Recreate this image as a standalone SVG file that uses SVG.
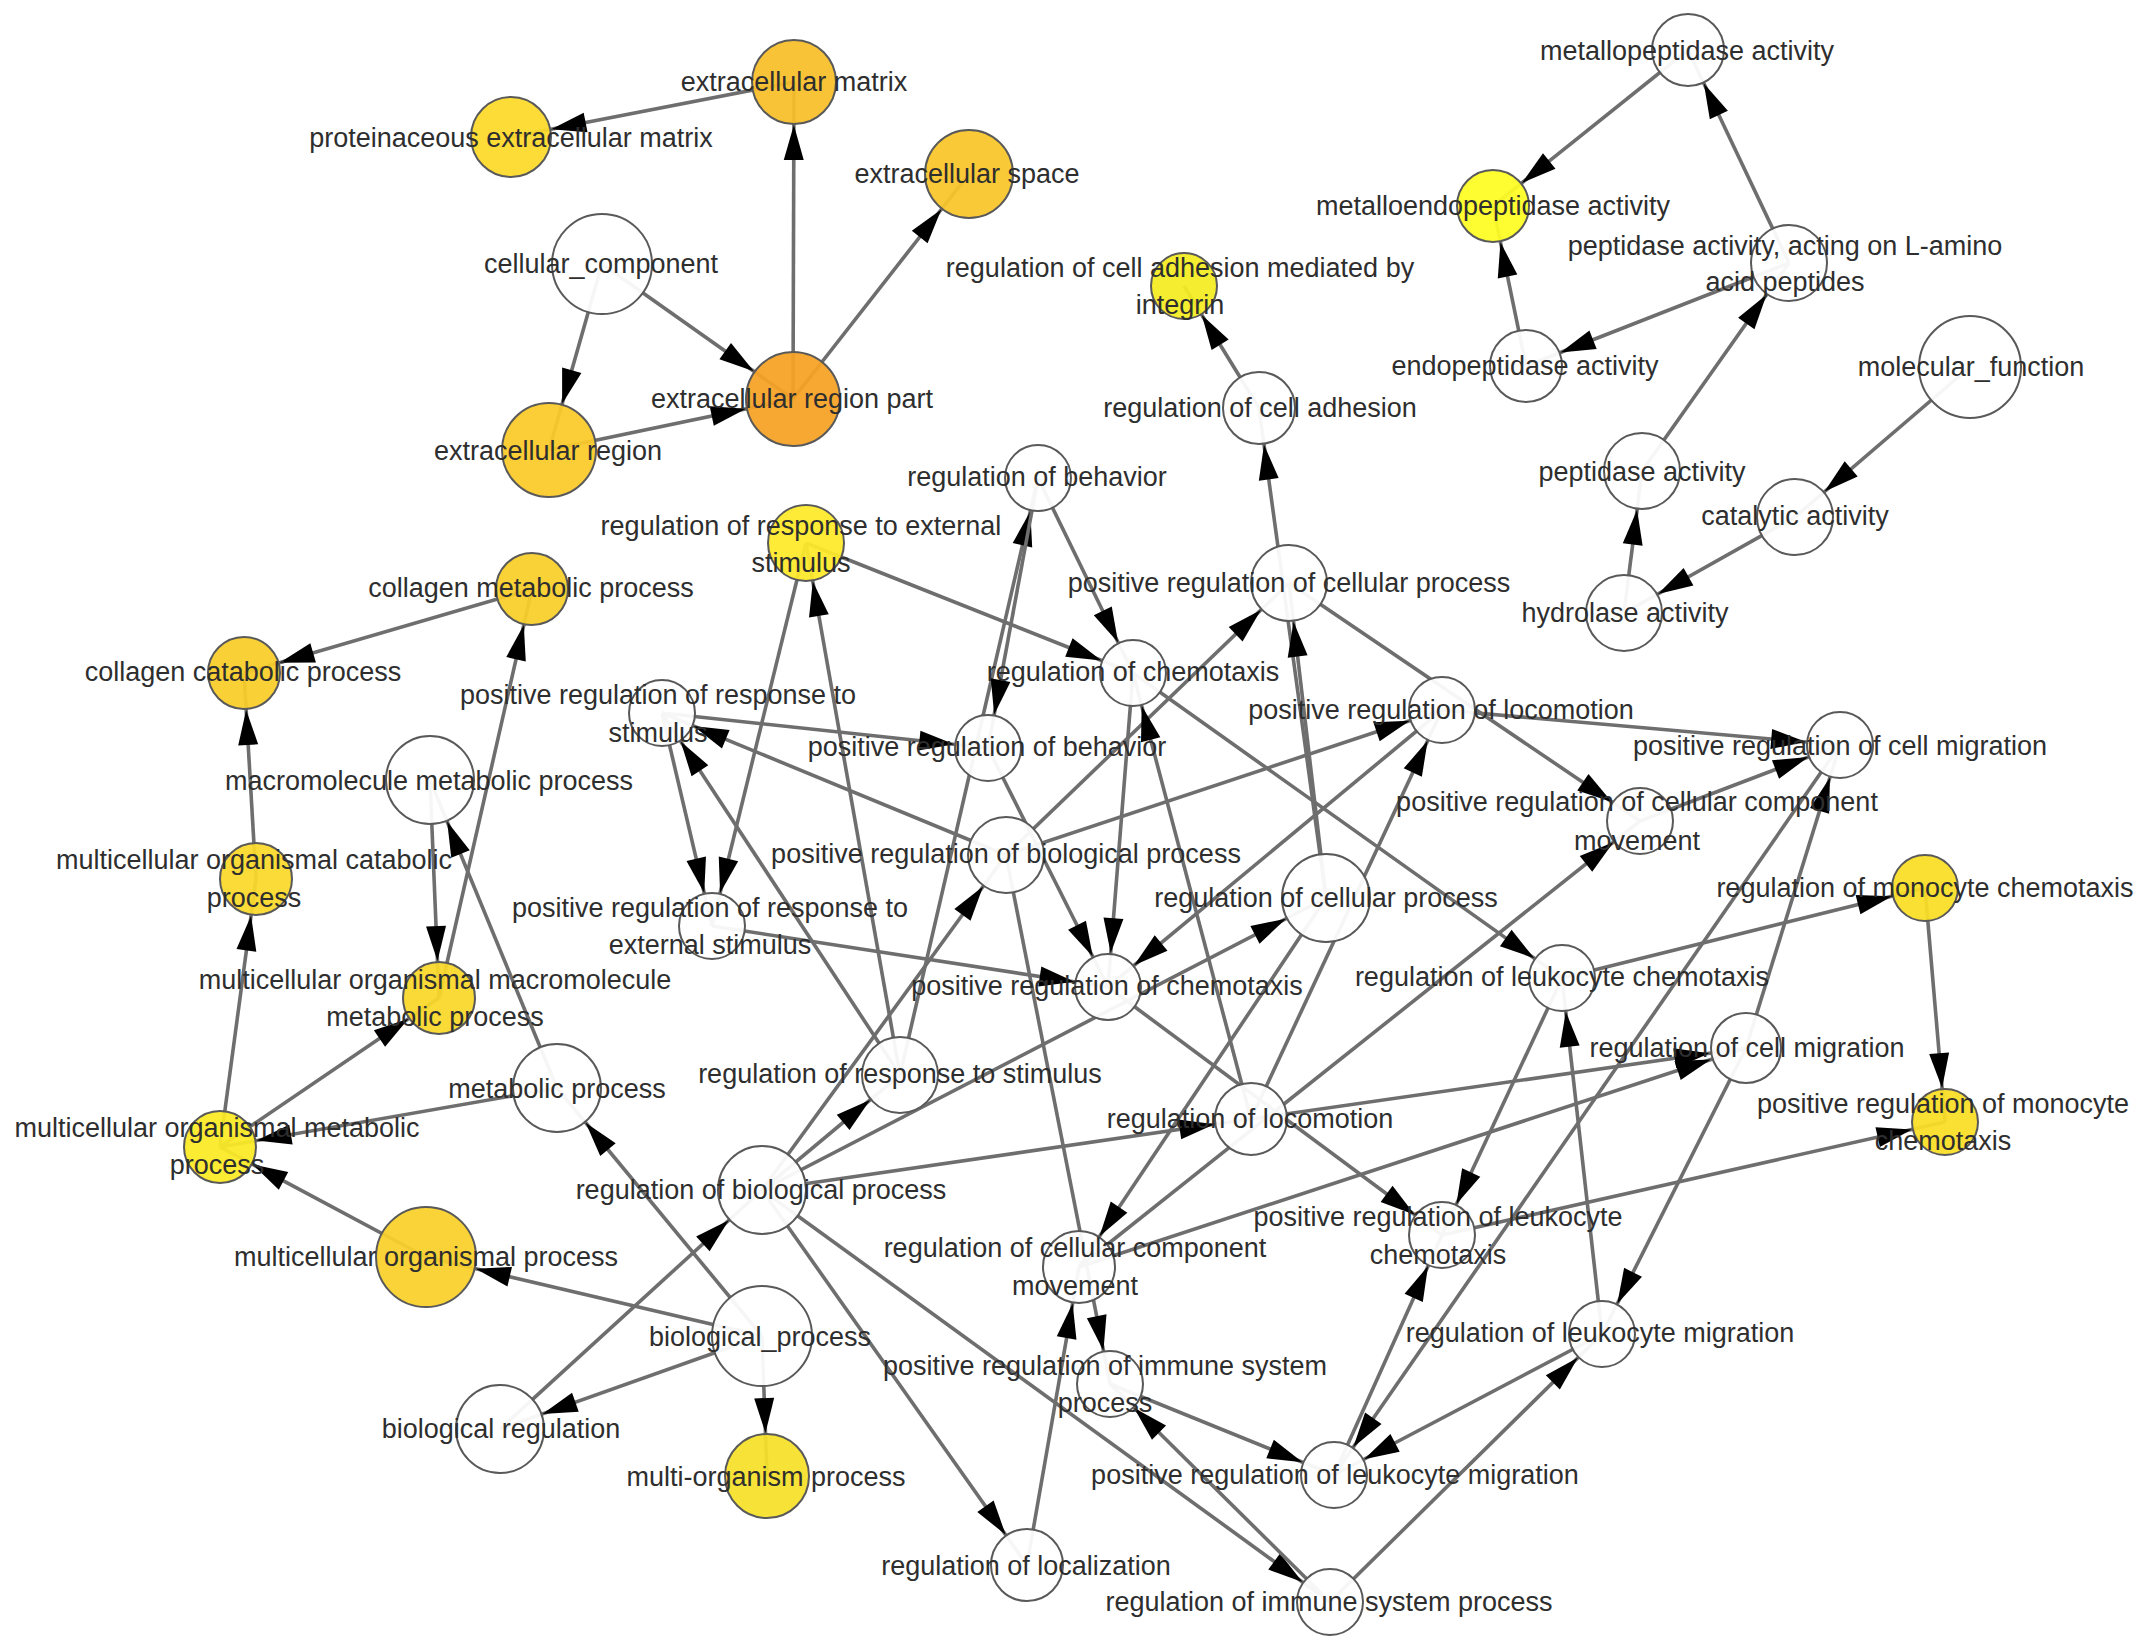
<svg xmlns="http://www.w3.org/2000/svg" width="2150" height="1650" viewBox="0 0 2150 1650">
<style>
.bg{fill:#ffffff}
.n circle{stroke:#595959;stroke-width:2;fill-opacity:0.94}
.w{fill:#ffffff}
text{font-family:"Liberation Sans",Arial,sans-serif;font-size:27px;fill:#2e2e2e;text-anchor:middle;dominant-baseline:central}
#edges line{stroke:#6e6e6e;stroke-width:3.6;fill:none}
.ah{fill:#000000}
</style>
<defs>
<marker id="m33" markerUnits="userSpaceOnUse" markerWidth="36" markerHeight="20" refX="69" refY="10" orient="auto" overflow="visible"><path class="ah" d="M0,0 L35,10 L0,20 z"/></marker>
<marker id="m36" markerUnits="userSpaceOnUse" markerWidth="36" markerHeight="20" refX="72" refY="10" orient="auto" overflow="visible"><path class="ah" d="M0,0 L35,10 L0,20 z"/></marker>
<marker id="m38" markerUnits="userSpaceOnUse" markerWidth="36" markerHeight="20" refX="74" refY="10" orient="auto" overflow="visible"><path class="ah" d="M0,0 L35,10 L0,20 z"/></marker>
<marker id="m40" markerUnits="userSpaceOnUse" markerWidth="36" markerHeight="20" refX="76" refY="10" orient="auto" overflow="visible"><path class="ah" d="M0,0 L35,10 L0,20 z"/></marker>
<marker id="m42" markerUnits="userSpaceOnUse" markerWidth="36" markerHeight="20" refX="78" refY="10" orient="auto" overflow="visible"><path class="ah" d="M0,0 L35,10 L0,20 z"/></marker>
<marker id="m44" markerUnits="userSpaceOnUse" markerWidth="36" markerHeight="20" refX="80" refY="10" orient="auto" overflow="visible"><path class="ah" d="M0,0 L35,10 L0,20 z"/></marker>
<marker id="m47" markerUnits="userSpaceOnUse" markerWidth="36" markerHeight="20" refX="83" refY="10" orient="auto" overflow="visible"><path class="ah" d="M0,0 L35,10 L0,20 z"/></marker>
<marker id="m50" markerUnits="userSpaceOnUse" markerWidth="36" markerHeight="20" refX="86" refY="10" orient="auto" overflow="visible"><path class="ah" d="M0,0 L35,10 L0,20 z"/></marker>
</defs>
<rect class="bg" x="0" y="0" width="2150" height="1650"/>
<g id="edges">
<line x1="794" y1="82" x2="511" y2="137" marker-end="url(#m40)"/>
<line x1="793" y1="399" x2="794" y2="82" marker-end="url(#m42)"/>
<line x1="793" y1="399" x2="969" y2="174" marker-end="url(#m44)"/>
<line x1="602" y1="264" x2="793" y2="399" marker-end="url(#m47)"/>
<line x1="602" y1="264" x2="549" y2="450" marker-end="url(#m47)"/>
<line x1="549" y1="450" x2="793" y2="399" marker-end="url(#m47)"/>
<line x1="1688" y1="50" x2="1493" y2="206" marker-end="url(#m36)"/>
<line x1="1789" y1="263" x2="1688" y2="50" marker-end="url(#m36)"/>
<line x1="1789" y1="263" x2="1526" y2="366" marker-end="url(#m36)"/>
<line x1="1526" y1="366" x2="1493" y2="206" marker-end="url(#m36)"/>
<line x1="1642" y1="471" x2="1789" y2="263" marker-end="url(#m38)"/>
<line x1="1970" y1="367" x2="1795" y2="517" marker-end="url(#m38)"/>
<line x1="1795" y1="517" x2="1624" y2="613" marker-end="url(#m38)"/>
<line x1="1624" y1="613" x2="1642" y2="471" marker-end="url(#m38)"/>
<line x1="1259" y1="408" x2="1184" y2="286" marker-end="url(#m33)"/>
<line x1="1326" y1="898" x2="1259" y2="408" marker-end="url(#m36)"/>
<line x1="1326" y1="898" x2="1289" y2="583" marker-end="url(#m38)"/>
<line x1="532" y1="589" x2="244" y2="673" marker-end="url(#m36)"/>
<line x1="256" y1="879" x2="244" y2="673" marker-end="url(#m36)"/>
<line x1="439" y1="998" x2="532" y2="589" marker-end="url(#m36)"/>
<line x1="430" y1="780" x2="439" y2="998" marker-end="url(#m36)"/>
<line x1="557" y1="1088" x2="430" y2="780" marker-end="url(#m44)"/>
<line x1="220" y1="1147" x2="256" y2="879" marker-end="url(#m36)"/>
<line x1="220" y1="1147" x2="439" y2="998" marker-end="url(#m36)"/>
<line x1="557" y1="1088" x2="220" y2="1147" marker-end="url(#m36)"/>
<line x1="426" y1="1257" x2="220" y2="1147" marker-end="url(#m36)"/>
<line x1="762" y1="1336" x2="426" y2="1257" marker-end="url(#m50)"/>
<line x1="762" y1="1336" x2="557" y2="1088" marker-end="url(#m44)"/>
<line x1="762" y1="1336" x2="500" y2="1429" marker-end="url(#m44)"/>
<line x1="762" y1="1336" x2="767" y2="1476" marker-end="url(#m42)"/>
<line x1="500" y1="1429" x2="762" y2="1190" marker-end="url(#m44)"/>
<line x1="762" y1="1190" x2="900" y2="1075" marker-end="url(#m38)"/>
<line x1="762" y1="1190" x2="1006" y2="855" marker-end="url(#m38)"/>
<line x1="762" y1="1190" x2="1326" y2="898" marker-end="url(#m44)"/>
<line x1="762" y1="1190" x2="1251" y2="1119" marker-end="url(#m36)"/>
<line x1="762" y1="1190" x2="1027" y2="1565" marker-end="url(#m36)"/>
<line x1="762" y1="1190" x2="1330" y2="1602" marker-end="url(#m33)"/>
<line x1="900" y1="1075" x2="806" y2="543" marker-end="url(#m38)"/>
<line x1="900" y1="1075" x2="1038" y2="478" marker-end="url(#m33)"/>
<line x1="900" y1="1075" x2="662" y2="713" marker-end="url(#m33)"/>
<line x1="806" y1="543" x2="1133" y2="673" marker-end="url(#m33)"/>
<line x1="806" y1="543" x2="712" y2="926" marker-end="url(#m33)"/>
<line x1="662" y1="713" x2="712" y2="926" marker-end="url(#m33)"/>
<line x1="662" y1="713" x2="988" y2="748" marker-end="url(#m33)"/>
<line x1="1006" y1="855" x2="662" y2="713" marker-end="url(#m33)"/>
<line x1="1038" y1="478" x2="988" y2="748" marker-end="url(#m33)"/>
<line x1="1038" y1="478" x2="1133" y2="673" marker-end="url(#m33)"/>
<line x1="988" y1="748" x2="1108" y2="987" marker-end="url(#m33)"/>
<line x1="712" y1="926" x2="1108" y2="987" marker-end="url(#m33)"/>
<line x1="1133" y1="673" x2="1108" y2="987" marker-end="url(#m33)"/>
<line x1="1133" y1="673" x2="1562" y2="978" marker-end="url(#m33)"/>
<line x1="1006" y1="855" x2="1289" y2="583" marker-end="url(#m38)"/>
<line x1="1006" y1="855" x2="1442" y2="710" marker-end="url(#m33)"/>
<line x1="1006" y1="855" x2="1110" y2="1384" marker-end="url(#m33)"/>
<line x1="1251" y1="1119" x2="1133" y2="673" marker-end="url(#m33)"/>
<line x1="1251" y1="1119" x2="1442" y2="710" marker-end="url(#m33)"/>
<line x1="1442" y1="710" x2="1108" y2="987" marker-end="url(#m33)"/>
<line x1="1442" y1="710" x2="1840" y2="745" marker-end="url(#m33)"/>
<line x1="1289" y1="583" x2="1640" y2="821" marker-end="url(#m33)"/>
<line x1="1326" y1="898" x2="1079" y2="1267" marker-end="url(#m36)"/>
<line x1="1079" y1="1267" x2="1640" y2="821" marker-end="url(#m33)"/>
<line x1="1079" y1="1267" x2="1746" y2="1048" marker-end="url(#m36)"/>
<line x1="1251" y1="1119" x2="1746" y2="1048" marker-end="url(#m36)"/>
<line x1="1640" y1="821" x2="1840" y2="745" marker-end="url(#m33)"/>
<line x1="1746" y1="1048" x2="1840" y2="745" marker-end="url(#m33)"/>
<line x1="1746" y1="1048" x2="1602" y2="1334" marker-end="url(#m33)"/>
<line x1="1840" y1="745" x2="1334" y2="1475" marker-end="url(#m33)"/>
<line x1="1562" y1="978" x2="1925" y2="888" marker-end="url(#m33)"/>
<line x1="1562" y1="978" x2="1442" y2="1235" marker-end="url(#m33)"/>
<line x1="1925" y1="888" x2="1945" y2="1122" marker-end="url(#m33)"/>
<line x1="1442" y1="1235" x2="1945" y2="1122" marker-end="url(#m33)"/>
<line x1="1108" y1="987" x2="1442" y2="1235" marker-end="url(#m33)"/>
<line x1="1602" y1="1334" x2="1562" y2="978" marker-end="url(#m33)"/>
<line x1="1602" y1="1334" x2="1334" y2="1475" marker-end="url(#m33)"/>
<line x1="1334" y1="1475" x2="1442" y2="1235" marker-end="url(#m33)"/>
<line x1="1110" y1="1384" x2="1334" y2="1475" marker-end="url(#m33)"/>
<line x1="1330" y1="1602" x2="1110" y2="1384" marker-end="url(#m33)"/>
<line x1="1330" y1="1602" x2="1602" y2="1334" marker-end="url(#m33)"/>
<line x1="1027" y1="1565" x2="1079" y2="1267" marker-end="url(#m36)"/>
</g>
<g id="nodes">
<g id="n_ecm" class="n"><circle cx="794" cy="82" r="42" fill="#F9BF2B"/><text x="794" y="82">extracellular matrix</text></g>
<g id="n_pecm" class="n"><circle cx="511" cy="137" r="40" fill="#FDDA2C"/><text x="511" y="138">proteinaceous extracellular matrix</text></g>
<g id="n_ecs" class="n"><circle cx="969" cy="174" r="44" fill="#FAC62B"/><text x="967" y="174">extracellular space</text></g>
<g id="n_cc" class="n"><circle class="w" cx="602" cy="264" r="50"/><text x="601" y="264">cellular_component</text></g>
<g id="n_erp" class="n"><circle cx="793" cy="399" r="47" fill="#F6A326"/><text x="792" y="399">extracellular region part</text></g>
<g id="n_er" class="n"><circle cx="549" cy="450" r="47" fill="#FBCA2B"/><text x="548" y="451">extracellular region</text></g>
<g id="n_integ" class="n"><circle cx="1184" cy="286" r="33" fill="#F4EC22"/><text x="1180" y="268">regulation of cell adhesion mediated by</text><text x="1180" y="305">integrin</text></g>
<g id="n_mpep" class="n"><circle class="w" cx="1688" cy="50" r="36"/><text x="1687" y="51">metallopeptidase activity</text></g>
<g id="n_mendo" class="n"><circle cx="1493" cy="206" r="36" fill="#FEFD25"/><text x="1493" y="206">metalloendopeptidase activity</text></g>
<g id="n_pepact" class="n"><circle class="w" cx="1789" cy="263" r="38"/><text x="1785" y="246">peptidase activity, acting on L-amino</text><text x="1785" y="282">acid peptides</text></g>
<g id="n_endo" class="n"><circle class="w" cx="1526" cy="366" r="36"/><text x="1525" y="366">endopeptidase activity</text></g>
<g id="n_molf" class="n"><circle class="w" cx="1970" cy="367" r="51"/><text x="1971" y="367">molecular_function</text></g>
<g id="n_rcadh" class="n"><circle class="w" cx="1259" cy="408" r="36"/><text x="1260" y="408">regulation of cell adhesion</text></g>
<g id="n_pep" class="n"><circle class="w" cx="1642" cy="471" r="38"/><text x="1642" y="472">peptidase activity</text></g>
<g id="n_cat" class="n"><circle class="w" cx="1795" cy="517" r="38"/><text x="1795" y="516">catalytic activity</text></g>
<g id="n_hyd" class="n"><circle class="w" cx="1624" cy="613" r="38"/><text x="1625" y="613">hydrolase activity</text></g>
<g id="n_rbeh" class="n"><circle class="w" cx="1038" cy="478" r="33"/><text x="1037" y="477">regulation of behavior</text></g>
<g id="n_rrext" class="n"><circle cx="806" cy="543" r="38" fill="#FDEA2A"/><text x="801" y="526">regulation of response to external</text><text x="801" y="563">stimulus</text></g>
<g id="n_colmet" class="n"><circle cx="532" cy="589" r="36" fill="#F9CF2A"/><text x="531" y="588">collagen metabolic process</text></g>
<g id="n_prcp" class="n"><circle class="w" cx="1289" cy="583" r="38"/><text x="1289" y="583">positive regulation of cellular process</text></g>
<g id="n_colcat" class="n"><circle cx="244" cy="673" r="36" fill="#F9CE2A"/><text x="243" y="672">collagen catabolic process</text></g>
<g id="n_rchem" class="n"><circle class="w" cx="1133" cy="673" r="33"/><text x="1133" y="672">regulation of chemotaxis</text></g>
<g id="n_prrs" class="n"><circle class="w" cx="662" cy="713" r="33"/><text x="658" y="695">positive regulation of response to</text><text x="658" y="733">stimulus</text></g>
<g id="n_prloc" class="n"><circle class="w" cx="1442" cy="710" r="33"/><text x="1441" y="710">positive regulation of locomotion</text></g>
<g id="n_prbeh" class="n"><circle class="w" cx="988" cy="748" r="33"/><text x="987" y="747">positive regulation of behavior</text></g>
<g id="n_prcm" class="n"><circle class="w" cx="1840" cy="745" r="33"/><text x="1840" y="746">positive regulation of cell migration</text></g>
<g id="n_macro" class="n"><circle class="w" cx="430" cy="780" r="44"/><text x="429" y="781">macromolecule metabolic process</text></g>
<g id="n_prccm" class="n"><circle class="w" cx="1640" cy="821" r="33"/><text x="1637" y="802">positive regulation of cellular component</text><text x="1637" y="841">movement</text></g>
<g id="n_mocat" class="n"><circle cx="256" cy="879" r="36" fill="#FBD92B"/><text x="254" y="860">multicellular organismal catabolic</text><text x="254" y="898">process</text></g>
<g id="n_prbp" class="n"><circle class="w" cx="1006" cy="855" r="38"/><text x="1006" y="854">positive regulation of biological process</text></g>
<g id="n_rcp" class="n"><circle class="w" cx="1326" cy="898" r="44"/><text x="1326" y="898">regulation of cellular process</text></g>
<g id="n_rmono" class="n"><circle cx="1925" cy="888" r="33" fill="#F9DE26"/><text x="1925" y="888">regulation of monocyte chemotaxis</text></g>
<g id="n_prrext" class="n"><circle class="w" cx="712" cy="926" r="33"/><text x="710" y="908">positive regulation of response to</text><text x="710" y="945">external stimulus</text></g>
<g id="n_momac" class="n"><circle cx="439" cy="998" r="36" fill="#F9D82A"/><text x="435" y="980">multicellular organismal macromolecule</text><text x="435" y="1017">metabolic process</text></g>
<g id="n_prchem" class="n"><circle class="w" cx="1108" cy="987" r="33"/><text x="1107" y="986">positive regulation of chemotaxis</text></g>
<g id="n_rlchem" class="n"><circle class="w" cx="1562" cy="978" r="33"/><text x="1562" y="977">regulation of leukocyte chemotaxis</text></g>
<g id="n_rcm" class="n"><circle class="w" cx="1746" cy="1048" r="35"/><text x="1747" y="1048">regulation of cell migration</text></g>
<g id="n_met" class="n"><circle class="w" cx="557" cy="1088" r="44"/><text x="557" y="1089">metabolic process</text></g>
<g id="n_rrs" class="n"><circle class="w" cx="900" cy="1075" r="38"/><text x="900" y="1074">regulation of response to stimulus</text></g>
<g id="n_prmono" class="n"><circle cx="1945" cy="1122" r="33" fill="#F9DE26"/><text x="1943" y="1104">positive regulation of monocyte</text><text x="1943" y="1141">chemotaxis</text></g>
<g id="n_momet" class="n"><circle cx="220" cy="1147" r="36" fill="#FCEA26"/><text x="217" y="1128">multicellular organismal metabolic</text><text x="217" y="1165">process</text></g>
<g id="n_rloc" class="n"><circle class="w" cx="1251" cy="1119" r="36"/><text x="1250" y="1119">regulation of locomotion</text></g>
<g id="n_rbp" class="n"><circle class="w" cx="762" cy="1190" r="44"/><text x="761" y="1190">regulation of biological process</text></g>
<g id="n_mop" class="n"><circle cx="426" cy="1257" r="50" fill="#F9D02A"/><text x="426" y="1257">multicellular organismal process</text></g>
<g id="n_prlchem" class="n"><circle class="w" cx="1442" cy="1235" r="33"/><text x="1438" y="1217">positive regulation of leukocyte</text><text x="1438" y="1255">chemotaxis</text></g>
<g id="n_rccm" class="n"><circle class="w" cx="1079" cy="1267" r="36"/><text x="1075" y="1248">regulation of cellular component</text><text x="1075" y="1286">movement</text></g>
<g id="n_bp" class="n"><circle class="w" cx="762" cy="1336" r="50"/><text x="760" y="1337">biological_process</text></g>
<g id="n_rlmig" class="n"><circle class="w" cx="1602" cy="1334" r="33"/><text x="1600" y="1333">regulation of leukocyte migration</text></g>
<g id="n_primm" class="n"><circle class="w" cx="1110" cy="1384" r="33"/><text x="1105" y="1366">positive regulation of immune system</text><text x="1105" y="1403">process</text></g>
<g id="n_breg" class="n"><circle class="w" cx="500" cy="1429" r="44"/><text x="501" y="1429">biological regulation</text></g>
<g id="n_multi" class="n"><circle cx="767" cy="1476" r="42" fill="#F7E02A"/><text x="766" y="1477">multi-organism process</text></g>
<g id="n_prlmig" class="n"><circle class="w" cx="1334" cy="1475" r="33"/><text x="1335" y="1475">positive regulation of leukocyte migration</text></g>
<g id="n_rlocz" class="n"><circle class="w" cx="1027" cy="1565" r="36"/><text x="1026" y="1566">regulation of localization</text></g>
<g id="n_rimm" class="n"><circle class="w" cx="1330" cy="1602" r="33"/><text x="1329" y="1602">regulation of immune system process</text></g>
</g>
</svg>
